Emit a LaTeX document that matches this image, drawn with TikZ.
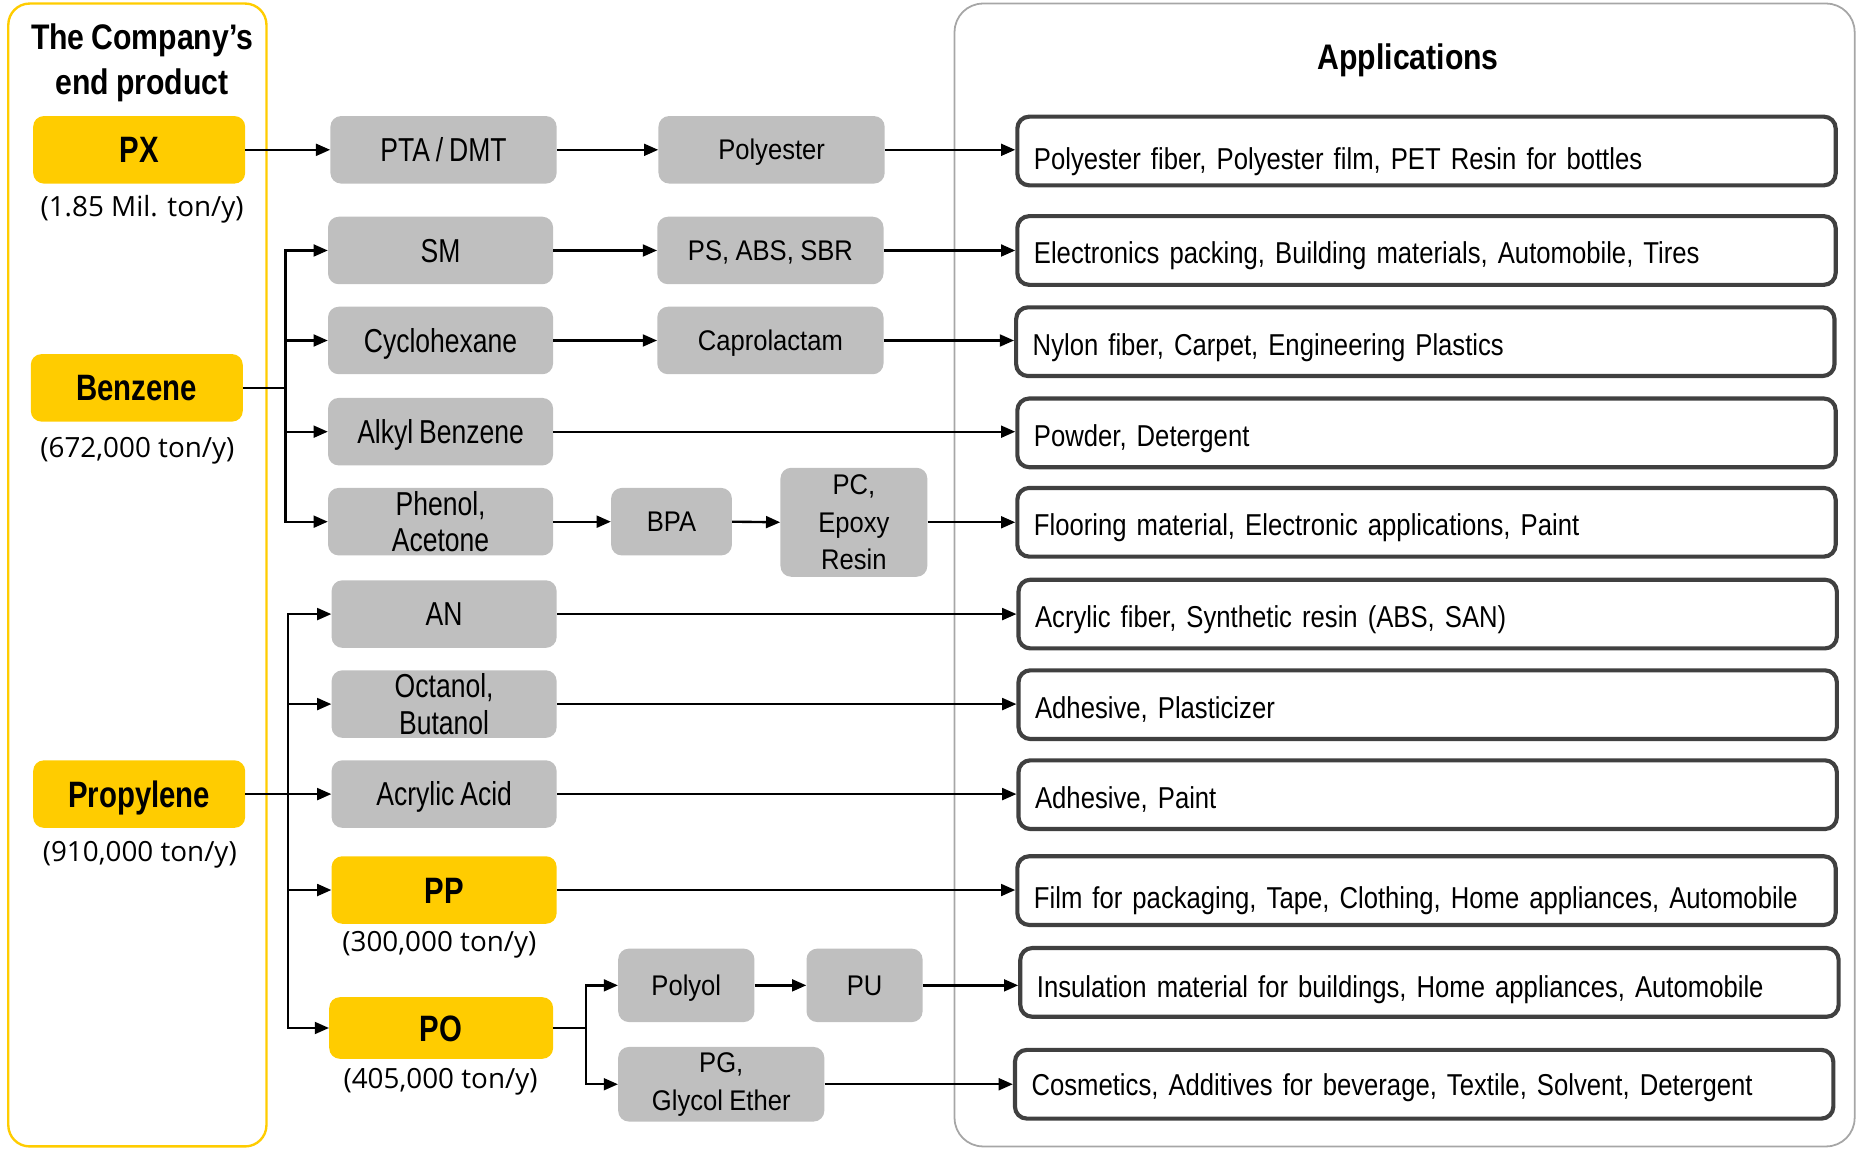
\documentclass[tikz,border=0pt]{standalone}
\usepackage{fontspec}
\setmainfont{Liberation Sans}
\newfontfamily\nar[FakeStretch=0.85,WordSpace=0.8]{Liberation Sans}
\newfontfamily\narr[FakeStretch=0.8,WordSpace=0.8]{Liberation Sans}
\newfontfamily\reg[FakeStretch=0.9,WordSpace=0.9]{Liberation Sans}
\newfontfamily\capf{Open Sans}
\usetikzlibrary{arrows.meta}
\definecolor{ylw}{HTML}{FFCC00}
\definecolor{gfill}{HTML}{BFBFBF}
\definecolor{abord}{HTML}{404040}
\definecolor{oline}{HTML}{A6A6A6}
\begin{document}
\begin{tikzpicture}[x=1pt,y=-1pt,
  ybox/.style={fill=ylw, rounded corners=9pt, inner sep=0pt, text height=22pt, text depth=0pt, font=\narr\bfseries\fontsize{31}{34}\selectfont},
  gbox/.style={fill=gfill, rounded corners=9pt, inner sep=0pt, align=center, font=\reg\fontsize{24}{32}\selectfont},
  gnar/.style={gbox, font=\narr\fontsize{28}{31}\selectfont},
  oneg/.style={text height=17pt, text depth=0pt},
  onen/.style={text height=20pt, text depth=0pt},
  appbox/.style={draw=abord, line width=3.5pt, fill=white, rounded corners=10pt, inner xsep=14pt, inner ysep=0pt, minimum height=58pt, text width=663pt, align=left, text depth=0pt, text height=22.6pt, font=\nar\fontsize{25.5}{30}\selectfont},
  lowtext/.style={text height=30.6pt},
  capt/.style={font=\capf\fontsize{23.5}{26}\selectfont, inner sep=0pt},
  ttl/.style={font=\nar\bfseries\fontsize{30}{38}\selectfont, align=center, inner sep=0pt},
  line/.style={line width=2pt},
  arr/.style={line width=2pt, -{Triangle[length=12pt,width=10pt]}},
]
\useasboundingbox (0,0) rectangle (1568,971);
% outline panels
\draw[ylw, line width=2pt, rounded corners=18pt] (7,3) rectangle (225,968);
\draw[oline, line width=1.5pt, rounded corners=24pt] (806,3) rectangle (1566,968);
\node[ttl] (title) at (120,53) {The Company’s\\end product};
\node[ttl, text height=21.5pt, text depth=0pt] (apptitle) at (1189,48) {Applications};

% end products
\node[ybox, minimum width=179pt, minimum height=57pt] (px) at (117.5,126.5) {PX};
\node[ybox, minimum width=179pt, minimum height=57pt] (benz) at (115.5,327.5) {Benzene};
\node[ybox, minimum width=179pt, minimum height=57pt] (prop) at (117.5,670.5) {Propylene};
\node[capt] (pxc) at (120,177) {(1.85 Mil. ton/y)};
\node[capt] (benzc) at (116,381) {(672,000 ton/y)};
\node[capt] (propc) at (118,722) {(910,000 ton/y)};

% intermediate products
\node[gnar, onen, minimum width=191pt, minimum height=57pt] (pta) at (374.5,126.5) {PTA / DMT};
\node[gbox, oneg, minimum width=191pt, minimum height=57pt] (poly) at (651.5,126.5) {Polyester};
\node[gnar, onen, minimum width=190pt, minimum height=57pt] (sm) at (372,211.5) {SM};
\node[gbox, oneg, minimum width=191pt, minimum height=57pt] (ps) at (650.5,211.5) {PS, ABS, SBR};
\node[gnar, onen, minimum width=190pt, minimum height=57pt] (cyc) at (372,287.5) {Cyclohexane};
\node[gbox, oneg, minimum width=191pt, minimum height=57pt] (capr) at (650.5,287.5) {Caprolactam};
\node[gnar, onen, minimum width=190pt, minimum height=57pt] (alk) at (372,364.5) {Alkyl Benzene};
\node[gnar, minimum width=190pt, minimum height=57pt] (phe) at (372,440.5) {Phenol,\\Acetone};
\node[gbox, oneg, minimum width=102pt, minimum height=57pt] (bpa) at (567,440.5) {BPA};
\node[gbox, minimum width=124pt, minimum height=92pt] (pc) at (721,441) {PC,\\Epoxy\\Resin};
\node[gnar, onen, minimum width=190pt, minimum height=57pt] (an) at (375,518.5) {AN};
\node[gnar, minimum width=190pt, minimum height=57pt] (oct) at (375,594.5) {Octanol,\\Butanol};
\node[gnar, onen, minimum width=190pt, minimum height=57pt] (acr) at (375,670.5) {Acrylic Acid};
\node[ybox, minimum width=190pt, minimum height=57pt] (pp) at (375,751.5) {PP};
\node[capt] (ppc) at (371,798) {(300,000 ton/y)};
\node[ybox, minimum width=189pt, minimum height=52pt] (po) at (372.5,868) {PO};
\node[capt] (poc) at (372,913) {(405,000 ton/y)};
\node[gbox, oneg, minimum width=115pt, minimum height=62pt] (pol) at (579.5,832) {Polyol};
\node[gbox, oneg, minimum width=98pt, minimum height=62pt] (pu) at (730,832) {PU};
\node[gbox, minimum width=174pt, minimum height=63pt] (pg) at (609,915.5) {PG,\\Glycol Ether};

% applications
\node[appbox, lowtext] (a1) at (1204.5,127.5) {Polyester fiber, Polyester film, PET Resin for bottles};
\node[appbox] (a2) at (1204.5,211.5) {Electronics packing, Building materials, Automobile, Tires};
\node[appbox] (a3) at (1203.5,288.5) {Nylon fiber, Carpet, Engineering Plastics};
\node[appbox] (a4) at (1204.5,365.5) {Powder, Detergent};
\node[appbox] (a5) at (1204.5,441) {Flooring material, Electronic applications, Paint};
\node[appbox] (a6) at (1205.5,518.5) {Acrylic fiber, Synthetic resin (ABS, SAN)};
\node[appbox] (a7) at (1205.5,595) {Adhesive, Plasticizer};
\node[appbox] (a8) at (1205.5,671) {Adhesive, Paint};
\node[appbox, lowtext] (a9) at (1204.5,752) {Film for packaging, Tape, Clothing, Home appliances, Automobile};
\node[appbox, text height=25.6pt] (a10) at (1207,829.5) {Insulation material for buildings, Home appliances, Automobile};
\node[appbox, text height=19.6pt] (a11) at (1202.5,915.5) {Cosmetics, Additives for beverage, Textile, Solvent, Detergent};

% connectors
\draw[arr] (px.east) -- (pta.west);
\draw[arr] (pta.east) -- (poly.west);
\draw[arr] (poly.east) -- (poly.east -| a1.west);

\coordinate (bb) at (241,327.5);
\draw[line] (benz.east) -- (bb);
\draw[arr] (bb) |- (sm.west);
\draw[arr] (bb) |- (cyc.west);
\draw[arr] (bb) |- (alk.west);
\draw[arr] (bb) |- (phe.west);
\draw[arr] (sm.east) -- (ps.west);
\draw[arr] (ps.east) -- (ps.east -| a2.west);
\draw[arr] (cyc.east) -- (capr.west);
\draw[arr] (capr.east) -- (capr.east -| a3.west);
\draw[arr] (alk.east) -- (alk.east -| a4.west);
\draw[arr] (phe.east) -- (bpa.west);
\draw[arr] (bpa.east) -- (pc.west);
\draw[arr] (pc.east) -- (pc.east -| a5.west);

\coordinate (pb) at (243,670.5);
\draw[line] (prop.east) -- (pb);
\draw[arr] (pb) |- (an.west);
\draw[arr] (pb) |- (oct.west);
\draw[arr] (pb) -- (acr.west);
\draw[arr] (pb) |- (pp.west);
\draw[arr] (pb) |- (po.west);
\draw[arr] (an.east) -- (an.east -| a6.west);
\draw[arr] (oct.east) -- (oct.east -| a7.west);
\draw[arr] (acr.east) -- (acr.east -| a8.west);
\draw[arr] (pp.east) -- (pp.east -| a9.west);

\coordinate (ob) at (495,868);
\draw[line] (po.east) -- (ob);
\draw[arr] (ob) |- (pol.west);
\draw[arr] (ob) |- (pg.west);
\draw[arr] (pol.east) -- (pu.west);
\draw[arr] (pu.east) -- (pu.east -| a10.west);
\draw[arr] (pg.east) -- (pg.east -| a11.west);
\end{tikzpicture}
\end{document}
